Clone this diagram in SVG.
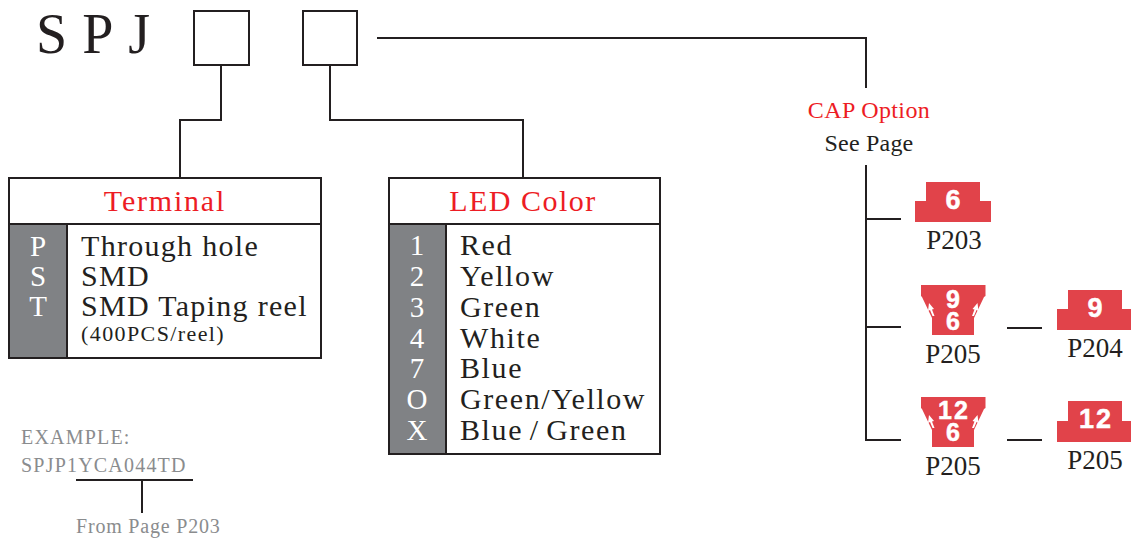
<svg xmlns="http://www.w3.org/2000/svg" width="1131" height="540" viewBox="0 0 1131 540">
<style>
text{font-family:"Liberation Serif","Times New Roman",serif;fill:#231f20}
.ln{fill:none;stroke:#231f20;stroke-width:2}
.box{fill:#fff;stroke:#231f20;stroke-width:2}
.gray{fill:#808285}
.hd{font-size:30px;fill:#ed1c24;text-anchor:middle}
.it{font-size:30px;letter-spacing:1.3px}
.li{font-size:30px;letter-spacing:1.6px}
.key{font-size:29px;fill:#fff;text-anchor:middle}
.cap{fill:#e1434a}
.ar{fill:#fff}
.num{font-family:"Liberation Sans",Arial,sans-serif;font-weight:bold;fill:#fff;text-anchor:middle;stroke:#fff;stroke-width:.5px}
.pg{font-size:27px;text-anchor:middle}
.ex{font-size:20px;fill:#8a8c8e}
</style>
<rect width="1131" height="540" fill="#fff"/>
<g id="connectors">
<path class="ln" d="M221 65V120H180V178"/>
<path class="ln" d="M330 65V120H523V178"/>
<path class="ln" d="M377 38H866V88"/>
<path class="ln" d="M866 165V440H901M866 219H901M866 327H901"/>
<path class="ln" d="M1007 328H1042M1007 440H1042"/>
<path class="ln" d="M76 480H193M142 480V513"/>
</g>
<g id="title"><text x="36" y="53" font-size="56" letter-spacing="15">SPJ</text></g>
<g id="box1"><rect class="box" x="194" y="11" width="55" height="54"/></g>
<g id="box2"><rect class="box" x="303" y="11" width="54" height="54"/></g>
<g id="terminal">
<rect class="box" x="9" y="178" width="312" height="180"/>
<rect class="gray" x="10" y="225" width="57" height="132"/>
<path class="ln" d="M9 224H321M67 224V358"/>
<text class="hd" x="165" y="211" letter-spacing="1.800">Terminal</text>
<text class="key" x="38" y="256">P</text><text class="key" x="38" y="286">S</text><text class="key" x="38" y="316">T</text>
<text class="it" x="81" y="256">Through hole</text>
<text class="it" x="81" y="286">SMD</text>
<text class="it" x="81" y="316">SMD Taping reel</text>
<text x="81" y="341" font-size="22" letter-spacing="1.400">(400PCS/reel)</text>
</g>
<g id="led">
<rect class="box" x="389" y="178" width="271" height="276"/>
<rect class="gray" x="390" y="225" width="56" height="228"/>
<path class="ln" d="M389 224H660M446 224V454"/>
<text class="hd" x="523" y="211" letter-spacing="1.500">LED Color</text>
<text class="key" x="417" y="255">1</text><text class="key" x="417" y="286">2</text><text class="key" x="417" y="317">3</text><text class="key" x="417" y="348">4</text><text class="key" x="417" y="378">7</text><text class="key" x="417" y="409">O</text><text class="key" x="417" y="440">X</text>
<text class="li" x="460" y="255">Red</text>
<text class="li" x="460" y="286">Yellow</text>
<text class="li" x="460" y="317">Green</text>
<text class="li" x="460" y="348">White</text>
<text class="li" x="460" y="378">Blue</text>
<text class="li" x="460" y="409">Green/Yellow</text>
<text class="li" x="460" y="440" word-spacing="-2.500">Blue / Green</text>
</g>
<g id="example">
<text class="ex" x="21" y="444" letter-spacing="1.200">EXAMPLE:</text>
<text class="ex" x="21" y="472" letter-spacing="1.200">SPJP1YCA044TD</text>
<text class="ex" x="76" y="533" letter-spacing=".8">From Page P203</text>
</g>
<g id="cap-option">
<text x="869" y="118" font-size="24" letter-spacing=".4" style="fill:#ed1c24" text-anchor="middle">CAP Option</text>
<text x="869" y="151" font-size="24" letter-spacing=".2" text-anchor="middle">See Page</text>
</g>
<g id="cap-p203">
<path class="cap" d="M926 182H980V201H991V222H915V201H926Z"/>
<text class="num" x="953" y="209" font-size="27">6</text>
<text class="pg" x="954" y="249">P203</text>
</g>
<g id="cap-p205a">
<path class="cap" d="M921 285H985.500V296L984 297L974 318V335H932V318L922 297L921 296Z"/>
<path class="ar" d="M929 303L934 309L932 309.500L934.500 316L932.500 316L930 310L928 311Z"/>
<path class="ar" d="M977.500 303L972.500 309L974.500 309.500L972 316L974 316L976.500 310L978.500 311Z"/>
<text class="num" x="953" y="308" font-size="25">9</text>
<text class="num" x="953" y="330" font-size="25">6</text>
<text class="pg" x="953" y="363">P205</text>
</g>
<g id="cap-p204">
<path class="cap" d="M1068 290H1122V309H1131V330H1057V309H1068Z"/>
<text class="num" x="1095" y="317" font-size="27">9</text>
<text class="pg" x="1095" y="357">P204</text>
</g>
<g id="cap-p205b">
<path class="cap" d="M921 397H985.500V408L984 409L974 430V447H932V430L922 409L921 408Z"/>
<path class="ar" d="M929 415L934 421L932 421.500L934.500 428L932.500 428L930 422L928 423Z"/>
<path class="ar" d="M977.500 415L972.500 421L974.500 421.500L972 428L974 428L976.500 422L978.500 423Z"/>
<text class="num" x="954" y="419" font-size="25" letter-spacing="2">12</text>
<text class="num" x="953" y="441" font-size="25">6</text>
<text class="pg" x="953" y="475">P205</text>
</g>
<g id="cap-p205c">
<path class="cap" d="M1068 401H1122V421H1131V442H1057V421H1068Z"/>
<text class="num" x="1096" y="428" font-size="27" letter-spacing="2">12</text>
<text class="pg" x="1095" y="469">P205</text>
</g>
</svg>
